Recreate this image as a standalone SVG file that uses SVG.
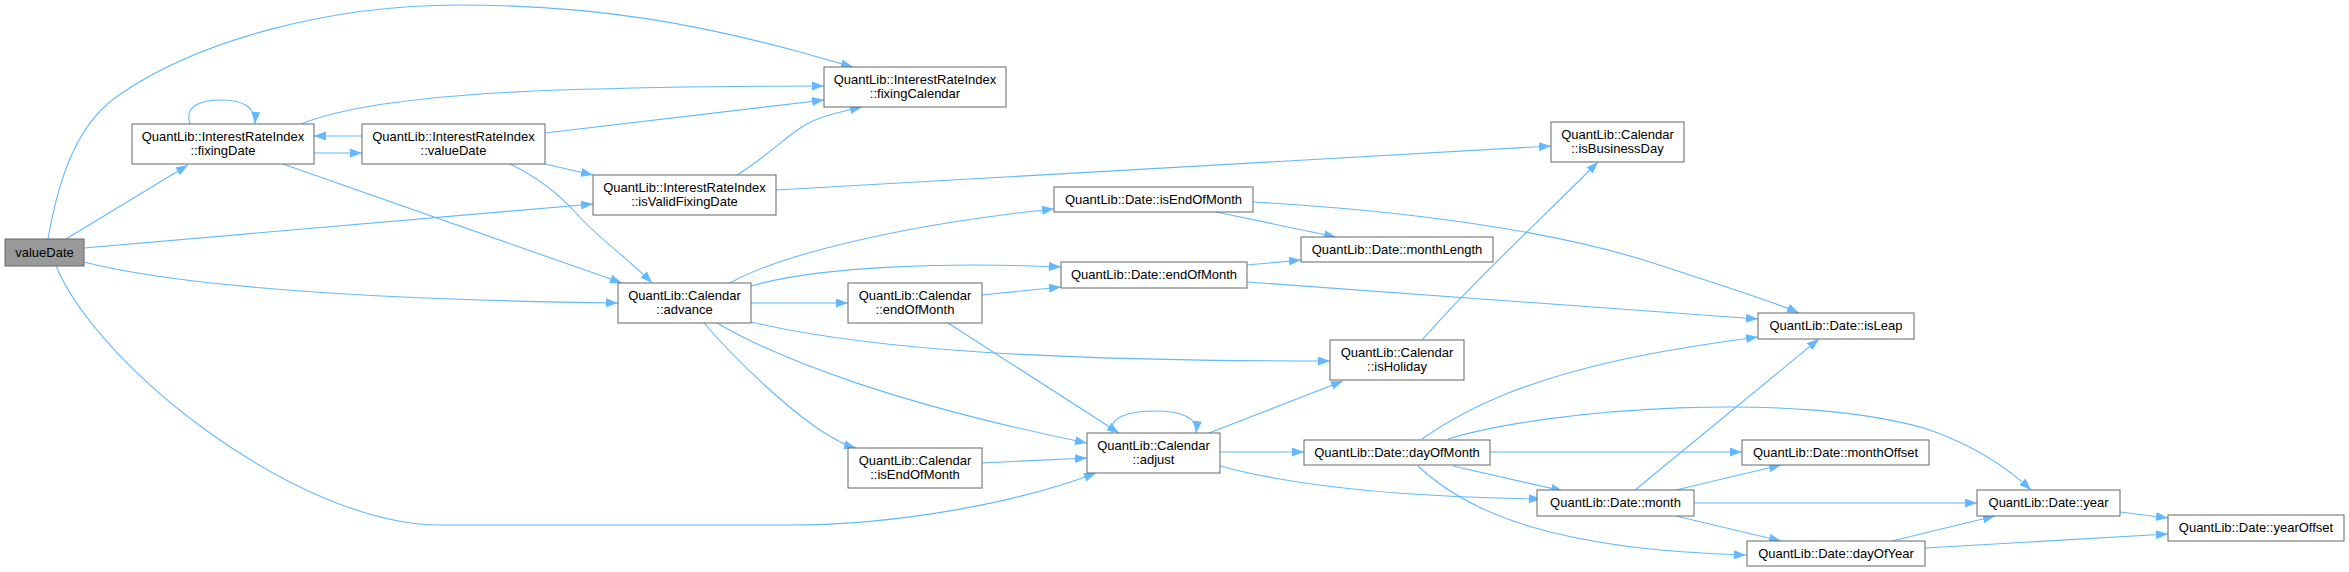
<svg xmlns="http://www.w3.org/2000/svg" width="2349" height="572" viewBox="0 0 2349 572">
<style>
.n rect{fill:#ffffff;stroke:#666666;stroke-width:1}
#valueDate rect{fill:#999999}
.n text{font-family:"Liberation Sans",Arial,sans-serif;font-size:13px;fill:#000000;text-anchor:middle}
.e path{fill:none;stroke:#63b8ff;stroke-width:1.1;marker-end:url(#ah)}
</style>
<defs>
<marker id="ah" markerUnits="userSpaceOnUse" markerWidth="13" markerHeight="10" refX="12" refY="4.5" orient="auto">
<path d="M0,0 L12,4.5 L0,9 z" fill="#63b8ff"/>
</marker>
</defs>
<rect width="2349" height="572" fill="#ffffff"/>
<g id="edges" class="e">
<path d="M48,239 C60,170 80,120 122,93 C200,40 330,5 459,5 C600,5 700,25 800,52 L853,67"/>
<path d="M66,239 L188,165"/>
<path d="M84,248 L593,204"/>
<path d="M84,262 C180,287 380,300 618,303"/>
<path d="M56,266 C100,370 300,525 440,525 L790,525 C900,525 1020,502 1096,473"/>
<path d="M190,124 C184,106 200,100 222,100 C244,100 256,108 255,124"/>
<path d="M314,153 L362,153"/>
<path d="M362,136 L314,136"/>
<path d="M301,124 C340,108 420,95 560,90 C680,86 760,86 824,86"/>
<path d="M545,133 L824,100"/>
<path d="M545,164 L593,175"/>
<path d="M510,164 C535,176 555,190 575,212 C600,240 630,260 652,283"/>
<path d="M283,164 L622,283"/>
<path d="M737,175 C765,158 785,137 805,125 C820,116 840,112 862,107"/>
<path d="M776,190 L1551,146"/>
<path d="M730,283 C780,255 900,225 1054,209"/>
<path d="M751,286 C820,266 950,262 1061,267"/>
<path d="M751,303 L848,303"/>
<path d="M751,322 C870,350 1050,361 1330,361"/>
<path d="M717,323 C780,360 900,405 1087,443"/>
<path d="M704,323 C740,365 790,410 820,430 C835,440 845,445 856,448"/>
<path d="M982,295 L1061,287"/>
<path d="M948,323 L1119,433"/>
<path d="M982,463 L1087,458"/>
<path d="M1112,433 C1108,417 1130,411 1155,411 C1180,411 1198,417 1196,433"/>
<path d="M1209,433 L1343,381"/>
<path d="M1220,452 L1304,452"/>
<path d="M1220,466 C1290,485 1400,497 1541,499"/>
<path d="M1422,340 C1470,285 1540,220 1598,162"/>
<path d="M1216,212 L1336,237"/>
<path d="M1253,202 C1400,210 1550,230 1650,262 C1720,285 1770,300 1799,313"/>
<path d="M1247,265 L1301,260"/>
<path d="M1247,282 L1758,319"/>
<path d="M1422,439 C1470,405 1530,380 1620,360 C1680,347 1720,342 1758,337"/>
<path d="M1448,439 C1550,408 1800,390 1930,430 C1980,448 2010,470 2031,490"/>
<path d="M1490,452 L1742,452"/>
<path d="M1453,466 L1563,491"/>
<path d="M1418,466 C1470,515 1560,550 1746,555"/>
<path d="M1635,490 L1819,339"/>
<path d="M1676,490 L1781,465"/>
<path d="M1694,503 L1977,503"/>
<path d="M1676,516 L1781,541"/>
<path d="M2120,512 L2168,518"/>
<path d="M1892,541 L1995,516"/>
<path d="M1925,548 L2168,534"/>
</g>
<g id="valueDate" class="n"><rect x="5" y="239" width="79" height="27"/><text x="44.5" y="257">valueDate</text></g>
<g id="IRI_fixingDate" class="n"><rect x="132" y="124" width="182" height="40"/><text x="223" y="141">QuantLib::InterestRateIndex</text><text x="223" y="155">::fixingDate</text></g>
<g id="IRI_valueDate" class="n"><rect x="362" y="124" width="183" height="40"/><text x="453.5" y="141">QuantLib::InterestRateIndex</text><text x="453.5" y="155">::valueDate</text></g>
<g id="IRI_fixingCalendar" class="n"><rect x="824" y="67" width="182" height="40"/><text x="915" y="84">QuantLib::InterestRateIndex</text><text x="915" y="98">::fixingCalendar</text></g>
<g id="IRI_isValidFixingDate" class="n"><rect x="593" y="175" width="183" height="40"/><text x="684.5" y="192">QuantLib::InterestRateIndex</text><text x="684.5" y="206">::isValidFixingDate</text></g>
<g id="Cal_isBusinessDay" class="n"><rect x="1551" y="122" width="133" height="40"/><text x="1617.5" y="139">QuantLib::Calendar</text><text x="1617.5" y="153">::isBusinessDay</text></g>
<g id="Cal_advance" class="n"><rect x="618" y="283" width="133" height="40"/><text x="684.5" y="300">QuantLib::Calendar</text><text x="684.5" y="314">::advance</text></g>
<g id="Date_isEndOfMonth" class="n"><rect x="1054" y="187" width="199" height="25"/><text x="1153.5" y="204">QuantLib::Date::isEndOfMonth</text></g>
<g id="Date_monthLength" class="n"><rect x="1301" y="237" width="192" height="25"/><text x="1397" y="254">QuantLib::Date::monthLength</text></g>
<g id="Date_endOfMonth" class="n"><rect x="1061" y="262" width="186" height="26"/><text x="1154" y="279">QuantLib::Date::endOfMonth</text></g>
<g id="Cal_endOfMonth" class="n"><rect x="848" y="283" width="134" height="40"/><text x="915" y="300">QuantLib::Calendar</text><text x="915" y="314">::endOfMonth</text></g>
<g id="Cal_isHoliday" class="n"><rect x="1330" y="340" width="134" height="40"/><text x="1397" y="357">QuantLib::Calendar</text><text x="1397" y="371">::isHoliday</text></g>
<g id="Date_isLeap" class="n"><rect x="1758" y="313" width="156" height="26"/><text x="1836" y="330">QuantLib::Date::isLeap</text></g>
<g id="Cal_adjust" class="n"><rect x="1087" y="433" width="133" height="40"/><text x="1153.5" y="450">QuantLib::Calendar</text><text x="1153.5" y="464">::adjust</text></g>
<g id="Cal_isEndOfMonth" class="n"><rect x="848" y="448" width="134" height="40"/><text x="915" y="465">QuantLib::Calendar</text><text x="915" y="479">::isEndOfMonth</text></g>
<g id="Date_dayOfMonth" class="n"><rect x="1304" y="440" width="186" height="25"/><text x="1397" y="457">QuantLib::Date::dayOfMonth</text></g>
<g id="Date_monthOffset" class="n"><rect x="1742" y="440" width="187" height="25"/><text x="1835.5" y="457">QuantLib::Date::monthOffset</text></g>
<g id="Date_month" class="n"><rect x="1537" y="490" width="157" height="26"/><text x="1615.5" y="507">QuantLib::Date::month</text></g>
<g id="Date_year" class="n"><rect x="1977" y="490" width="143" height="26"/><text x="2048.5" y="507">QuantLib::Date::year</text></g>
<g id="Date_yearOffset" class="n"><rect x="2168" y="515" width="176" height="26"/><text x="2256" y="532">QuantLib::Date::yearOffset</text></g>
<g id="Date_dayOfYear" class="n"><rect x="1747" y="541" width="178" height="25"/><text x="1836" y="558">QuantLib::Date::dayOfYear</text></g>
</svg>
